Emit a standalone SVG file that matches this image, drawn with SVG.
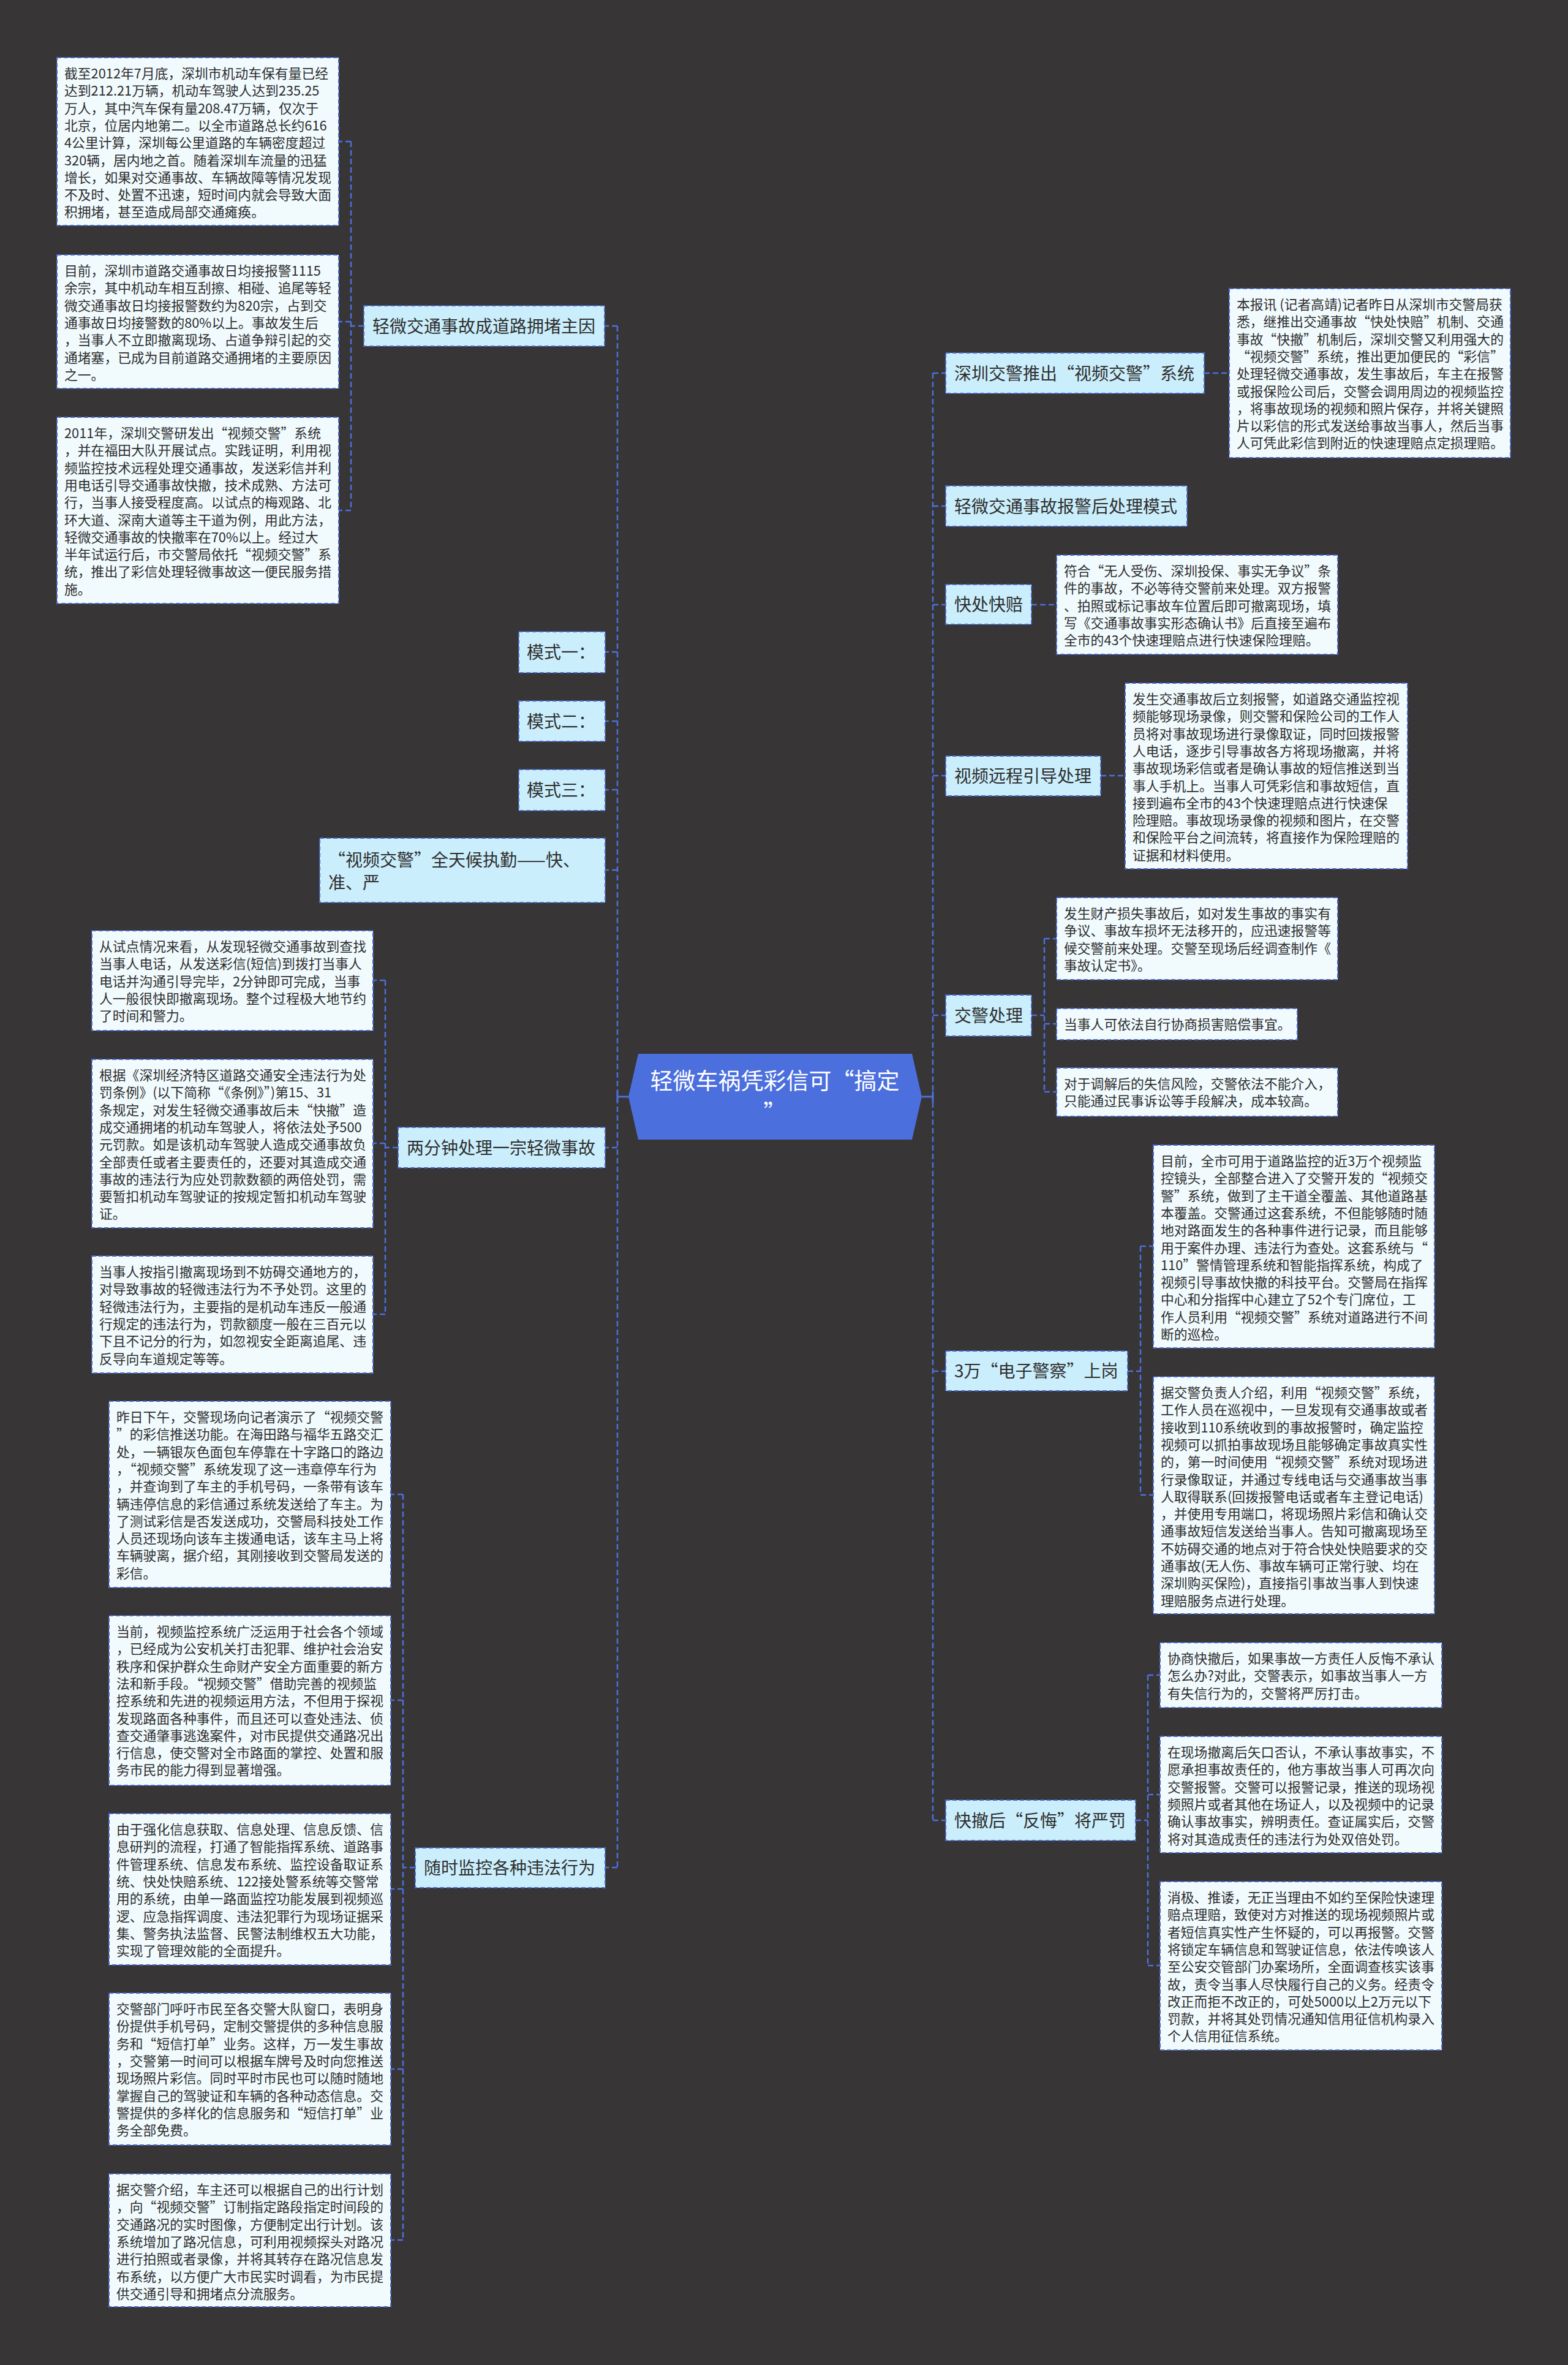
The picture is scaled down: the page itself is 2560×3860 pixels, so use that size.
<svg xmlns="http://www.w3.org/2000/svg" width="2560" height="3860" viewBox="0 0 2560 3860">
<style>
.lf{fill:#F1FBFE;stroke:#4A6AD0;stroke-width:2;stroke-dasharray:7 4}
.br{fill:#CBEEFC;stroke:#4A6AD0;stroke-width:2;stroke-dasharray:7 4}
.lt{font-family:"Noto Sans CJK SC","Noto Sans",sans-serif;font-size:21.8px;fill:#2E2E2E}
.bt{font-family:"Noto Sans CJK SC","Noto Sans",sans-serif;font-size:28px;fill:#2E2E2E}
.rt{font-family:"Noto Sans CJK SC","Noto Sans",sans-serif;font-size:37px;fill:#FFFFFF}
.cn{fill:none;stroke:#4D6FDB;stroke-width:2.5;stroke-dasharray:9 5}
.cs{fill:none;stroke:#4D6FDB;stroke-width:3}
</style>
<rect x="0" y="0" width="2560" height="3860" fill="#373536"/>

<g id="connectors">
<path class="cs" d="M1026 1790H1008M1008 1781V1799M1505 1790H1523M1523 1781V1799"/>
<path class="cn" d="M1008 532V3048M1008 532H988M1008 1064H988M1008 1177H988M1008 1289H988M1008 1420H988M1008 1873H988M1008 3048H988"/>
<path class="cn" d="M594 532H573M573 231V833M573 231H553M573 525H553M573 833H553"/>
<path class="cn" d="M650 1873H629M629 1600V2145M629 1600H609M629 1866H609M629 2145H609"/>
<path class="cn" d="M678 3048H658M658 2439V3656M658 2439H638M658 2775H638M658 3083H638M658 3377H638M658 3656H638"/>
<path class="cn" d="M1523 609V2971M1523 609H1544M1523 826H1544M1523 987H1544M1523 1266H1544M1523 1657H1544M1523 2238H1544M1523 2971H1544"/>
<path class="cn" d="M1966 609H2007M1684 987H1725M1797 1266H1837"/>
<path class="cn" d="M1684 1657H1705M1705 1532V1782M1705 1532H1725M1705 1671H1725M1705 1782H1725"/>
<path class="cn" d="M1841 2238H1862M1862 2034V2440M1862 2034H1883M1862 2440H1883"/>
<path class="cn" d="M1854 2971H1874M1874 2734V3208M1874 2734H1894M1874 2929H1894M1874 3208H1894"/>
</g>

<g id="root">
<polygon points="1042,1720 1489,1720 1505,1790 1489,1860 1042,1860 1026,1790" fill="#4C6FDE"/>
<text class="rt" text-anchor="middle"><tspan x="1265" y="1778">轻微车祸凭彩信可“搞定</tspan><tspan x="1265" y="1830">”</tspan></text>
</g>

<g id="b-left1">
<rect class="br" x="594" y="499" width="393" height="66"/>
<text class="bt" x="608" y="543">轻微交通事故成道路拥堵主因</text>
</g>
<g id="l-left1a">
<rect class="lf" x="93" y="94" width="460" height="274"/>
<text class="lt"><tspan x="105" y="128">截至2012年7月底，深圳市机动车保有量已经</tspan><tspan x="105" y="156.3">达到212.21万辆，机动车驾驶人达到235.25</tspan><tspan x="105" y="184.6">万人，其中汽车保有量208.47万辆，仅次于</tspan><tspan x="105" y="212.9">北京，位居内地第二。以全市道路总长约616</tspan><tspan x="105" y="241.2">4公里计算，深圳每公里道路的车辆密度超过</tspan><tspan x="105" y="269.5">320辆，居内地之首。随着深圳车流量的迅猛</tspan><tspan x="105" y="297.8">增长，如果对交通事故、车辆故障等情况发现</tspan><tspan x="105" y="326.1">不及时、处置不迅速，短时间内就会导致大面</tspan><tspan x="105" y="354.4">积拥堵，甚至造成局部交通瘫痪。</tspan></text>
</g>
<g id="l-left1b">
<rect class="lf" x="93" y="416" width="460" height="218"/>
<text class="lt"><tspan x="105" y="450">目前，深圳市道路交通事故日均接报警1115</tspan><tspan x="105" y="478.3">余宗，其中机动车相互刮擦、相碰、追尾等轻</tspan><tspan x="105" y="506.6">微交通事故日均接报警数约为820宗，占到交</tspan><tspan x="105" y="534.9">通事故日均接警数的80%以上。事故发生后</tspan><tspan x="105" y="563.2">，当事人不立即撤离现场、占道争辩引起的交</tspan><tspan x="105" y="591.5">通堵塞，已成为目前道路交通拥堵的主要原因</tspan><tspan x="105" y="619.8">之一。</tspan></text>
</g>
<g id="l-left1c">
<rect class="lf" x="93" y="681" width="460" height="304"/>
<text class="lt"><tspan x="105" y="715">2011年，深圳交警研发出“视频交警”系统</tspan><tspan x="105" y="743.3">，并在福田大队开展试点。实践证明，利用视</tspan><tspan x="105" y="771.6">频监控技术远程处理交通事故，发送彩信并利</tspan><tspan x="105" y="799.9">用电话引导交通事故快撤，技术成熟、方法可</tspan><tspan x="105" y="828.2">行，当事人接受程度高。以试点的梅观路、北</tspan><tspan x="105" y="856.5">环大道、深南大道等主干道为例，用此方法，</tspan><tspan x="105" y="884.8">轻微交通事故的快撤率在70%以上。经过大</tspan><tspan x="105" y="913.1">半年试运行后，市交警局依托“视频交警”系</tspan><tspan x="105" y="941.4">统，推出了彩信处理轻微事故这一便民服务措</tspan><tspan x="105" y="969.7">施。</tspan></text>
</g>

<g id="b-mode1">
<rect class="br" x="847" y="1031" width="141" height="67"/>
<text class="bt" x="860" y="1075">模式一：</text>
</g>
<g id="b-mode2">
<rect class="br" x="847" y="1144" width="141" height="66"/>
<text class="bt" x="860" y="1188">模式二：</text>
</g>
<g id="b-mode3">
<rect class="br" x="847" y="1256" width="141" height="67"/>
<text class="bt" x="860" y="1300">模式三：</text>
</g>
<g id="b-video">
<rect class="br" x="522" y="1368" width="466" height="105"/>
<text class="bt"><tspan x="536" y="1414">“视频交警”全天候执勤——快、</tspan><tspan x="536" y="1451">准、严</tspan></text>
</g>

<g id="b-left2">
<rect class="br" x="650" y="1840" width="338" height="66"/>
<text class="bt" x="664" y="1884">两分钟处理一宗轻微事故</text>
</g>
<g id="l-left2a">
<rect class="lf" x="150" y="1519" width="459" height="163"/>
<text class="lt"><tspan x="162" y="1553">从试点情况来看，从发现轻微交通事故到查找</tspan><tspan x="162" y="1581.3">当事人电话，从发送彩信(短信)到拨打当事人</tspan><tspan x="162" y="1609.6">电话并沟通引导完毕，2分钟即可完成，当事</tspan><tspan x="162" y="1637.9">人一般很快即撤离现场。整个过程极大地节约</tspan><tspan x="162" y="1666.2">了时间和警力。</tspan></text>
</g>
<g id="l-left2b">
<rect class="lf" x="150" y="1729" width="459" height="275"/>
<text class="lt"><tspan x="162" y="1763">根据《深圳经济特区道路交通安全违法行为处</tspan><tspan x="162" y="1791.3">罚条例》(以下简称“《条例》”)第15、31</tspan><tspan x="162" y="1819.6">条规定，对发生轻微交通事故后未“快撤”造</tspan><tspan x="162" y="1847.9">成交通拥堵的机动车驾驶人，将依法处予500</tspan><tspan x="162" y="1876.2">元罚款。如是该机动车驾驶人造成交通事故负</tspan><tspan x="162" y="1904.5">全部责任或者主要责任的，还要对其造成交通</tspan><tspan x="162" y="1932.8">事故的违法行为应处罚款数额的两倍处罚，需</tspan><tspan x="162" y="1961.1">要暂扣机动车驾驶证的按规定暂扣机动车驾驶</tspan><tspan x="162" y="1989.4">证。</tspan></text>
</g>
<g id="l-left2c">
<rect class="lf" x="150" y="2050" width="459" height="191"/>
<text class="lt"><tspan x="162" y="2084">当事人按指引撤离现场到不妨碍交通地方的，</tspan><tspan x="162" y="2112.3">对导致事故的轻微违法行为不予处罚。这里的</tspan><tspan x="162" y="2140.6">轻微违法行为，主要指的是机动车违反一般通</tspan><tspan x="162" y="2168.9">行规定的违法行为，罚款额度一般在三百元以</tspan><tspan x="162" y="2197.2">下且不记分的行为，如忽视安全距离追尾、违</tspan><tspan x="162" y="2225.5">反导向车道规定等等。</tspan></text>
</g>

<g id="b-left3">
<rect class="br" x="678" y="3016" width="310" height="65"/>
<text class="bt" x="692" y="3059">随时监控各种违法行为</text>
</g>
<g id="l-left3a">
<rect class="lf" x="178" y="2287" width="460" height="304"/>
<text class="lt"><tspan x="190" y="2321">昨日下午，交警现场向记者演示了“视频交警</tspan><tspan x="190" y="2349.3">”的彩信推送功能。在海田路与福华五路交汇</tspan><tspan x="190" y="2377.6">处，一辆银灰色面包车停靠在十字路口的路边</tspan><tspan x="190" y="2405.9">，“视频交警”系统发现了这一违章停车行为</tspan><tspan x="190" y="2434.2">，并查询到了车主的手机号码，一条带有该车</tspan><tspan x="190" y="2462.5">辆违停信息的彩信通过系统发送给了车主。为</tspan><tspan x="190" y="2490.8">了测试彩信是否发送成功，交警局科技处工作</tspan><tspan x="190" y="2519.1">人员还现场向该车主拨通电话，该车主马上将</tspan><tspan x="190" y="2547.4">车辆驶离，据介绍，其刚接收到交警局发送的</tspan><tspan x="190" y="2575.7">彩信。</tspan></text>
</g>
<g id="l-left3b">
<rect class="lf" x="178" y="2637" width="460" height="277"/>
<text class="lt"><tspan x="190" y="2671">当前，视频监控系统广泛运用于社会各个领域</tspan><tspan x="190" y="2699.3">，已经成为公安机关打击犯罪、维护社会治安</tspan><tspan x="190" y="2727.6">秩序和保护群众生命财产安全方面重要的新方</tspan><tspan x="190" y="2755.9">法和新手段。“视频交警”借助完善的视频监</tspan><tspan x="190" y="2784.2">控系统和先进的视频运用方法，不但用于探视</tspan><tspan x="190" y="2812.5">发现路面各种事件，而且还可以查处违法、侦</tspan><tspan x="190" y="2840.8">查交通肇事逃逸案件，对市民提供交通路况出</tspan><tspan x="190" y="2869.1">行信息，使交警对全市路面的掌控、处置和服</tspan><tspan x="190" y="2897.4">务市民的能力得到显著增强。</tspan></text>
</g>
<g id="l-left3c">
<rect class="lf" x="178" y="2960" width="460" height="247"/>
<text class="lt"><tspan x="190" y="2994">由于强化信息获取、信息处理、信息反馈、信</tspan><tspan x="190" y="3022.3">息研判的流程，打通了智能指挥系统、道路事</tspan><tspan x="190" y="3050.6">件管理系统、信息发布系统、监控设备取证系</tspan><tspan x="190" y="3078.9">统、快处快赔系统、122接处警系统等交警常</tspan><tspan x="190" y="3107.2">用的系统，由单一路面监控功能发展到视频巡</tspan><tspan x="190" y="3135.5">逻、应急指挥调度、违法犯罪行为现场证据采</tspan><tspan x="190" y="3163.8">集、警务执法监督、民警法制维权五大功能，</tspan><tspan x="190" y="3192.1">实现了管理效能的全面提升。</tspan></text>
</g>
<g id="l-left3d">
<rect class="lf" x="178" y="3253" width="460" height="248"/>
<text class="lt"><tspan x="190" y="3287">交警部门呼吁市民至各交警大队窗口，表明身</tspan><tspan x="190" y="3315.3">份提供手机号码，定制交警提供的多种信息服</tspan><tspan x="190" y="3343.6">务和“短信打单”业务。这样，万一发生事故</tspan><tspan x="190" y="3371.9">，交警第一时间可以根据车牌号及时向您推送</tspan><tspan x="190" y="3400.2">现场照片彩信。同时平时市民也可以随时随地</tspan><tspan x="190" y="3428.5">掌握自己的驾驶证和车辆的各种动态信息。交</tspan><tspan x="190" y="3456.8">警提供的多样化的信息服务和“短信打单”业</tspan><tspan x="190" y="3485.1">务全部免费。</tspan></text>
</g>
<g id="l-left3e">
<rect class="lf" x="178" y="3548" width="460" height="217"/>
<text class="lt"><tspan x="190" y="3582">据交警介绍，车主还可以根据自己的出行计划</tspan><tspan x="190" y="3610.3">，向“视频交警”订制指定路段指定时间段的</tspan><tspan x="190" y="3638.6">交通路况的实时图像，方便制定出行计划。该</tspan><tspan x="190" y="3666.9">系统增加了路况信息，可利用视频探头对路况</tspan><tspan x="190" y="3695.2">进行拍照或者录像，并将其转存在路况信息发</tspan><tspan x="190" y="3723.5">布系统，以方便广大市民实时调看，为市民提</tspan><tspan x="190" y="3751.8">供交通引导和拥堵点分流服务。</tspan></text>
</g>

<g id="b-right1">
<rect class="br" x="1544" y="576" width="422" height="66"/>
<text class="bt" x="1558" y="620">深圳交警推出“视频交警”系统</text>
</g>
<g id="l-right1">
<rect class="lf" x="2007" y="471" width="459" height="276"/>
<text class="lt"><tspan x="2019" y="505">本报讯 (记者高靖)记者昨日从深圳市交警局获</tspan><tspan x="2019" y="533.3">悉，继推出交通事故“快处快赔”机制、交通</tspan><tspan x="2019" y="561.6">事故“快撤”机制后，深圳交警又利用强大的</tspan><tspan x="2019" y="589.9">“视频交警”系统，推出更加便民的“彩信”</tspan><tspan x="2019" y="618.2">处理轻微交通事故，发生事故后，车主在报警</tspan><tspan x="2019" y="646.5">或报保险公司后，交警会调用周边的视频监控</tspan><tspan x="2019" y="674.8">，将事故现场的视频和照片保存，并将关键照</tspan><tspan x="2019" y="703.1">片以彩信的形式发送给事故当事人，然后当事</tspan><tspan x="2019" y="731.4">人可凭此彩信到附近的快速理赔点定损理赔。</tspan></text>
</g>
<g id="b-right2">
<rect class="br" x="1544" y="793" width="394" height="66"/>
<text class="bt" x="1558" y="837">轻微交通事故报警后处理模式</text>
</g>
<g id="b-right3">
<rect class="br" x="1544" y="954" width="140" height="65"/>
<text class="bt" x="1558" y="997">快处快赔</text>
</g>
<g id="l-right3">
<rect class="lf" x="1725" y="906" width="459" height="162"/>
<text class="lt"><tspan x="1737" y="940">符合“无人受伤、深圳投保、事实无争议”条</tspan><tspan x="1737" y="968.3">件的事故，不必等待交警前来处理。双方报警</tspan><tspan x="1737" y="996.6">、拍照或标记事故车位置后即可撤离现场，填</tspan><tspan x="1737" y="1024.9">写《交通事故事实形态确认书》后直接至遍布</tspan><tspan x="1737" y="1053.2">全市的43个快速理赔点进行快速保险理赔。</tspan></text>
</g>
<g id="b-right4">
<rect class="br" x="1544" y="1234" width="253" height="65"/>
<text class="bt" x="1558" y="1277">视频远程引导处理</text>
</g>
<g id="l-right4">
<rect class="lf" x="1837" y="1115" width="461" height="303"/>
<text class="lt"><tspan x="1849" y="1149">发生交通事故后立刻报警，如道路交通监控视</tspan><tspan x="1849" y="1177.3">频能够现场录像，则交警和保险公司的工作人</tspan><tspan x="1849" y="1205.6">员将对事故现场进行录像取证，同时回拨报警</tspan><tspan x="1849" y="1233.9">人电话，逐步引导事故各方将现场撤离，并将</tspan><tspan x="1849" y="1262.2">事故现场彩信或者是确认事故的短信推送到当</tspan><tspan x="1849" y="1290.5">事人手机上。当事人可凭彩信和事故短信，直</tspan><tspan x="1849" y="1318.8">接到遍布全市的43个快速理赔点进行快速保</tspan><tspan x="1849" y="1347.1">险理赔。事故现场录像的视频和图片，在交警</tspan><tspan x="1849" y="1375.4">和保险平台之间流转，将直接作为保险理赔的</tspan><tspan x="1849" y="1403.7">证据和材料使用。</tspan></text>
</g>
<g id="b-right5">
<rect class="br" x="1544" y="1624" width="140" height="67"/>
<text class="bt" x="1558" y="1668">交警处理</text>
</g>
<g id="l-right5a">
<rect class="lf" x="1725" y="1465" width="459" height="134"/>
<text class="lt"><tspan x="1737" y="1499">发生财产损失事故后，如对发生事故的事实有</tspan><tspan x="1737" y="1527.3">争议、事故车损坏无法移开的，应迅速报警等</tspan><tspan x="1737" y="1555.6">候交警前来处理。交警至现场后经调查制作《</tspan><tspan x="1737" y="1583.9">事故认定书》。</tspan></text>
</g>
<g id="l-right5b">
<rect class="lf" x="1725" y="1646" width="393" height="51"/>
<text class="lt" x="1737" y="1680">当事人可依法自行协商损害赔偿事宜。</text>
</g>
<g id="l-right5c">
<rect class="lf" x="1725" y="1743" width="459" height="79"/>
<text class="lt"><tspan x="1737" y="1777">对于调解后的失信风险，交警依法不能介入，</tspan><tspan x="1737" y="1805.3">只能通过民事诉讼等手段解决，成本较高。</tspan></text>
</g>
<g id="b-right6">
<rect class="br" x="1544" y="2205" width="297" height="65"/>
<text class="bt" x="1558" y="2248">3万“电子警察”上岗</text>
</g>
<g id="l-right6a">
<rect class="lf" x="1883" y="1869" width="459" height="331"/>
<text class="lt"><tspan x="1895" y="1903">目前，全市可用于道路监控的近3万个视频监</tspan><tspan x="1895" y="1931.3">控镜头，全部整合进入了交警开发的“视频交</tspan><tspan x="1895" y="1959.6">警”系统，做到了主干道全覆盖、其他道路基</tspan><tspan x="1895" y="1987.9">本覆盖。交警通过这套系统，不但能够随时随</tspan><tspan x="1895" y="2016.2">地对路面发生的各种事件进行记录，而且能够</tspan><tspan x="1895" y="2044.5">用于案件办理、违法行为查处。这套系统与“</tspan><tspan x="1895" y="2072.8">110”警情管理系统和智能指挥系统，构成了</tspan><tspan x="1895" y="2101.1">视频引导事故快撤的科技平台。交警局在指挥</tspan><tspan x="1895" y="2129.4">中心和分指挥中心建立了52个专门席位，工</tspan><tspan x="1895" y="2157.7">作人员利用“视频交警”系统对道路进行不间</tspan><tspan x="1895" y="2186">断的巡检。</tspan></text>
</g>
<g id="l-right6b">
<rect class="lf" x="1883" y="2247" width="459" height="387"/>
<text class="lt"><tspan x="1895" y="2281">据交警负责人介绍，利用“视频交警”系统，</tspan><tspan x="1895" y="2309.3">工作人员在巡视中，一旦发现有交通事故或者</tspan><tspan x="1895" y="2337.6">接收到110系统收到的事故报警时，确定监控</tspan><tspan x="1895" y="2365.9">视频可以抓拍事故现场且能够确定事故真实性</tspan><tspan x="1895" y="2394.2">的，第一时间使用“视频交警”系统对现场进</tspan><tspan x="1895" y="2422.5">行录像取证，并通过专线电话与交通事故当事</tspan><tspan x="1895" y="2450.8">人取得联系(回拨报警电话或者车主登记电话)</tspan><tspan x="1895" y="2479.1">，并使用专用端口，将现场照片彩信和确认交</tspan><tspan x="1895" y="2507.4">通事故短信发送给当事人。告知可撤离现场至</tspan><tspan x="1895" y="2535.7">不妨碍交通的地点对于符合快处快赔要求的交</tspan><tspan x="1895" y="2564">通事故(无人伤、事故车辆可正常行驶、均在</tspan><tspan x="1895" y="2592.3">深圳购买保险)，直接指引事故当事人到快速</tspan><tspan x="1895" y="2620.6">理赔服务点进行处理。</tspan></text>
</g>
<g id="b-right7">
<rect class="br" x="1544" y="2938" width="310" height="66"/>
<text class="bt" x="1558" y="2982">快撤后“反悔”将严罚</text>
</g>
<g id="l-right7a">
<rect class="lf" x="1894" y="2681" width="460" height="106"/>
<text class="lt"><tspan x="1906" y="2715">协商快撤后，如果事故一方责任人反悔不承认</tspan><tspan x="1906" y="2743.3">怎么办?对此，交警表示，如事故当事人一方</tspan><tspan x="1906" y="2771.6">有失信行为的，交警将严厉打击。</tspan></text>
</g>
<g id="l-right7b">
<rect class="lf" x="1894" y="2834" width="460" height="190"/>
<text class="lt"><tspan x="1906" y="2868">在现场撤离后矢口否认，不承认事故事实，不</tspan><tspan x="1906" y="2896.3">愿承担事故责任的，他方事故当事人可再次向</tspan><tspan x="1906" y="2924.6">交警报警。交警可以报警记录，推送的现场视</tspan><tspan x="1906" y="2952.9">频照片或者其他在场证人，以及视频中的记录</tspan><tspan x="1906" y="2981.2">确认事故事实，辨明责任。查证属实后，交警</tspan><tspan x="1906" y="3009.5">将对其造成责任的违法行为处双倍处罚。</tspan></text>
</g>
<g id="l-right7c">
<rect class="lf" x="1894" y="3071" width="460" height="275"/>
<text class="lt"><tspan x="1906" y="3105">消极、推诿，无正当理由不如约至保险快速理</tspan><tspan x="1906" y="3133.3">赔点理赔，致使对方对推送的现场视频照片或</tspan><tspan x="1906" y="3161.6">者短信真实性产生怀疑的，可以再报警。交警</tspan><tspan x="1906" y="3189.9">将锁定车辆信息和驾驶证信息，依法传唤该人</tspan><tspan x="1906" y="3218.2">至公安交管部门办案场所，全面调查核实该事</tspan><tspan x="1906" y="3246.5">故，责令当事人尽快履行自己的义务。经责令</tspan><tspan x="1906" y="3274.8">改正而拒不改正的，可处5000以上2万元以下</tspan><tspan x="1906" y="3303.1">罚款，并将其处罚情况通知信用征信机构录入</tspan><tspan x="1906" y="3331.4">个人信用征信系统。</tspan></text>
</g>
</svg>
